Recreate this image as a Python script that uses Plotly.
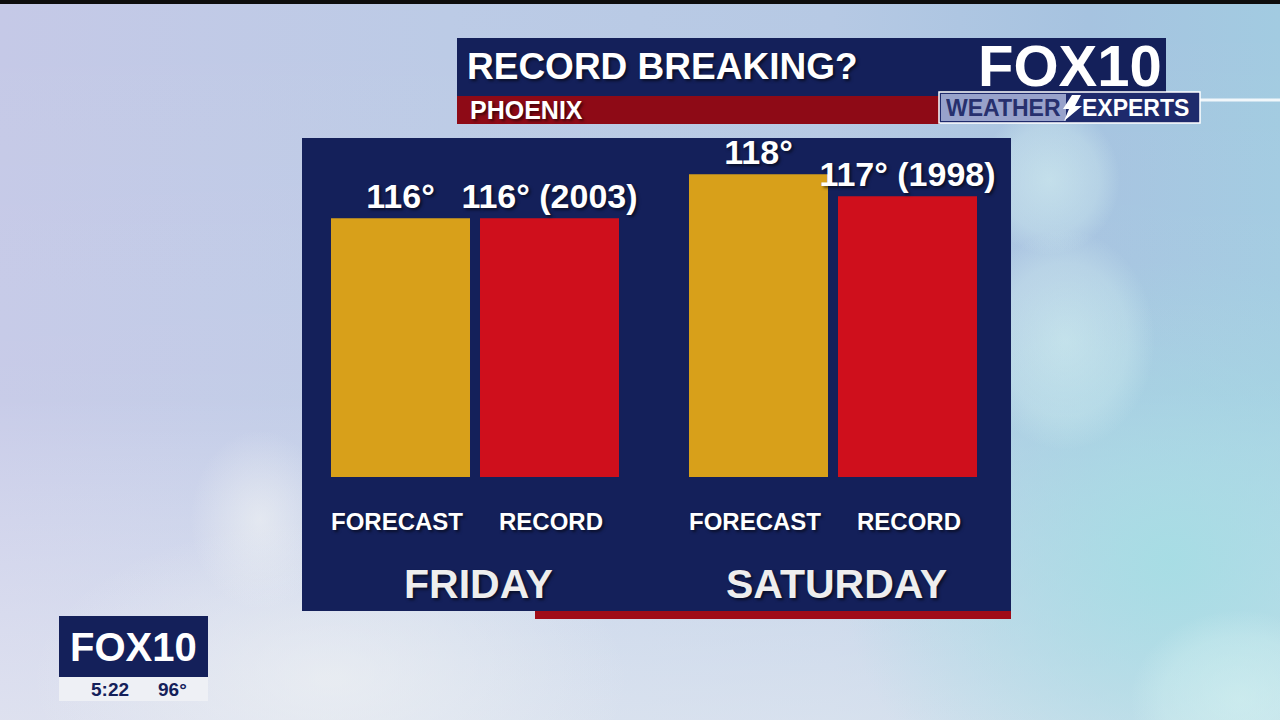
import base64
import plotly.graph_objects as go

days = ["FRIDAY", "SATURDAY"]
forecast = [116, 118]
record = [116, 117]
record_years = ["2003", "1998"]
series_names = ["FORECAST", "RECORD"]
title = "RECORD BREAKING?"
subtitle = "PHOENIX"

NAVY = "#14205a"
GOLD = "#d8a01a"
RED = "#cf0f1c"
DARKRED = "#8e0a16"
FONT = "Liberation Sans, Arial, sans-serif"
SHADOW = "2px 2px 3px rgba(0,0,0,0.55)"

W, H = 1280, 720
def px(x): return x / W
def py(y): return 1 - y / H

# decorative soft background (svg gradient image)
bg_svg = f"""<svg xmlns='http://www.w3.org/2000/svg' width='{W}' height='{H}' viewBox='0 0 {W} {H}'>
<defs>
<linearGradient id='h' x1='0' y1='0' x2='1' y2='0'>
<stop offset='0' stop-color='#c5c9e7'/><stop offset='0.35' stop-color='#bccbe6'/>
<stop offset='0.65' stop-color='#b6c9e4'/><stop offset='0.85' stop-color='#a6c3e0'/>
<stop offset='1' stop-color='#a2cbe1'/></linearGradient>
<linearGradient id='v' x1='0' y1='0' x2='0' y2='1'>
<stop offset='0' stop-color='#ffffff' stop-opacity='0'/><stop offset='0.55' stop-color='#ffffff' stop-opacity='0.05'/>
<stop offset='1' stop-color='#f2f4f6' stop-opacity='0.55'/></linearGradient>
<radialGradient id='c1' cx='0.5' cy='0.5' r='0.5'>
<stop offset='0' stop-color='#a6dde4' stop-opacity='0.95'/><stop offset='1' stop-color='#a6dde4' stop-opacity='0'/></radialGradient>
<radialGradient id='c2' cx='0.5' cy='0.5' r='0.5'>
<stop offset='0' stop-color='#d8f4f2' stop-opacity='0.55'/><stop offset='0.7' stop-color='#d8f4f2' stop-opacity='0.3'/>
<stop offset='1' stop-color='#d8f4f2' stop-opacity='0'/></radialGradient>
<radialGradient id='c3' cx='0.5' cy='0.5' r='0.5'>
<stop offset='0' stop-color='#f2f4f4' stop-opacity='0.6'/><stop offset='1' stop-color='#f2f4f4' stop-opacity='0'/></radialGradient>
</defs>
<rect width='{W}' height='{H}' fill='url(#h)'/>
<rect width='{W}' height='{H}' fill='url(#v)'/>
<ellipse cx='1170' cy='560' rx='330' ry='300' fill='url(#c1)'/>
<ellipse cx='1050' cy='180' rx='70' ry='75' fill='url(#c2)'/>
<ellipse cx='1065' cy='340' rx='90' ry='110' fill='url(#c2)'/>
<ellipse cx='1240' cy='700' rx='110' ry='90' fill='url(#c2)'/>
<ellipse cx='330' cy='680' rx='300' ry='160' fill='url(#c3)'/>
<ellipse cx='260' cy='520' rx='70' ry='90' fill='url(#c3)'/>
</svg>"""
bg_uri = "data:image/svg+xml;base64," + base64.b64encode(bg_svg.encode()).decode()

fig = go.Figure()
fig.add_trace(go.Bar(
    x=days, y=forecast, name=series_names[0], marker_color=GOLD,
    text=[f"{v}°" for v in forecast], textposition="outside",
    textfont=dict(family=FONT, size=34, color="white", weight="bold", shadow=SHADOW),
    cliponaxis=False, constraintext="none", marker_line_width=0, hoverinfo="skip"))
fig.add_trace(go.Bar(
    x=days, y=record, name=series_names[1], marker_color=RED,
    text=[f"{v}° ({yr})" for v, yr in zip(record, record_years)], textposition="outside",
    textfont=dict(family=FONT, size=34, color="white", weight="bold", shadow=SHADOW),
    cliponaxis=False, constraintext="none", marker_line_width=0, hoverinfo="skip"))

shapes = []
def rect(x0, y0, x1, y1, fill, line=None):
    shapes.append(dict(type="rect", xref="paper", yref="paper", x0=px(x0), x1=px(x1), y0=py(y1), y1=py(y0),
                       fillcolor=fill, line=line or dict(width=0), layer="below"))

rect(0, 0, 1280, 4, "#0d0d0d")
# main panel
rect(535, 604, 1011, 619, "#a00c18")
rect(302, 138, 1011, 611, NAVY)
# header
rect(457, 38, 1166, 96, NAVY)
rect(457, 96, 940, 124, DARKRED)
# weather experts badge
shapes.append(dict(type="line", xref="paper", yref="paper", x0=px(1200), x1=1, y0=py(100), y1=py(100),
                   line=dict(color="rgba(255,255,255,0.85)", width=3), layer="below"))
rect(939, 92, 1200, 123, "#1e2a6c", dict(color="white", width=1.5))
rect(941, 94, 1066, 121, "#98a2cb")
bolt = [(1072, 95), (1081, 95), (1075, 106), (1082, 106), (1064, 121), (1069, 109), (1063, 109)]
path = "M " + " L ".join(f"{px(a)},{py(b)}" for a, b in bolt) + " Z"
shapes.append(dict(type="path", xref="paper", yref="paper", path=path, fillcolor="white",
                   line_width=0, layer="below"))
# bottom-left bug
rect(59, 616, 208, 677, NAVY)
rect(59, 677, 208, 701, "#eef0f5")

ann = []
def text(x, y, s, size, color="white", shadow=True, xanchor="center", height=None):
    a = dict(x=px(x), y=py(y), xref="paper", yref="paper", text=s, showarrow=False, xanchor=xanchor,
             yanchor="middle",
             font=dict(family=FONT, size=size, color=color, weight="bold",
                       shadow=SHADOW if shadow else "none"))
    if height:
        a["height"] = height
    ann.append(a)

text(465, 66, title, 37, xanchor="left")
text(468, 110, subtitle, 25, xanchor="left")
text(1070, 65, "FOX10", 58, shadow=False, height=44)
text(1003, 108, "WEATHER", 23, color="#27306e", shadow=False, height=22)
text(1135, 108, "EXPERTS", 23, shadow=False, height=22)
text(133, 647, "FOX10", 40, shadow=False, height=40)
text(110, 689, "5:22", 19, color=NAVY, shadow=False)
text(172, 689, "96°", 19, color=NAVY, shadow=False)

for d in days:
    for name, shift in zip(series_names, [-78, 76]):
        ann.append(dict(x=d, y=py(521), xref="x", yref="paper", text=name, showarrow=False, xshift=shift,
                        yanchor="middle",
                        font=dict(family=FONT, size=24, color="white", weight="bold", shadow=SHADOW)))
    ann.append(dict(x=d, y=py(584), xref="x", yref="paper", text=d, showarrow=False, xshift=3,
                    yanchor="middle",
                    font=dict(family=FONT, size=41, color="#eeeeee", weight="bold", shadow=SHADOW)))

fig.update_layout(
    width=W, height=H, margin=dict(l=0, r=0, t=0, b=0),
    paper_bgcolor="#bccbe4", plot_bgcolor="rgba(0,0,0,0)",
    barmode="group", bargap=0.1676, bargroupgap=0.067, showlegend=False,
    xaxis=dict(domain=[px(296), px(1012)], range=[-0.5, 1.5], visible=False, fixedrange=True),
    yaxis=dict(domain=[py(477), py(140)], range=[104.24, 119.56], visible=False, fixedrange=True),
    shapes=shapes, annotations=ann,
    images=[dict(source=bg_uri, xref="paper", yref="paper", x=0, y=1, sizex=1, sizey=1,
                 xanchor="left", yanchor="top", sizing="stretch", layer="below")],
)
fig.write_html("out.html", config={"displayModeBar": False},
               post_script="document.body.style.margin='0';document.body.style.overflow='hidden';")
